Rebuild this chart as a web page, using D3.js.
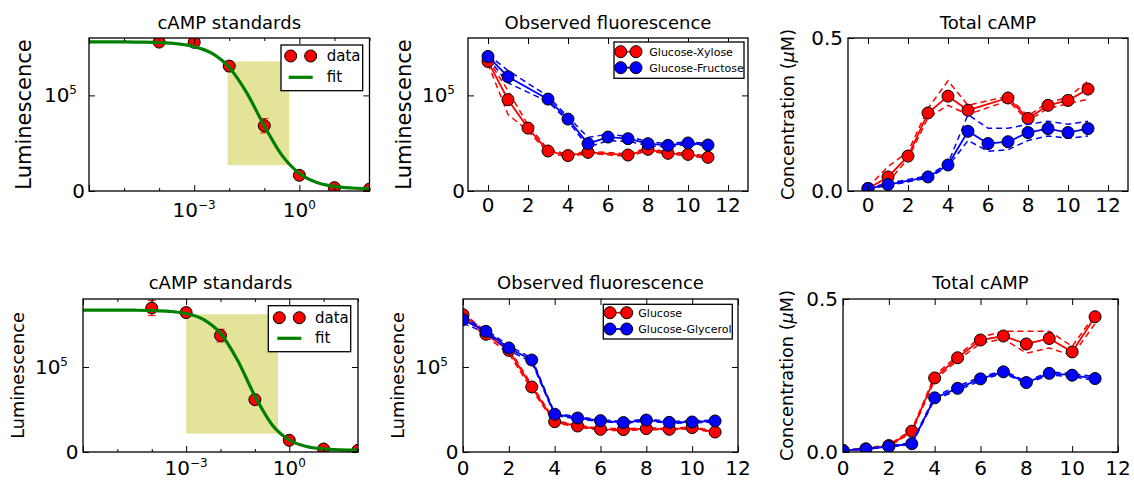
<!DOCTYPE html>
<html>
<head>
<meta charset="utf-8">
<script src="https://cdn.jsdelivr.net/npm/d3@7"></script>
<style>
  body { margin: 0; background: #fff; }
  text { font-family: "DejaVu Sans", sans-serif; fill: #000; }
</style>
</head>
<body>
<svg id="fig" width="1134" height="480"></svg>
<script>
// ---- cAMP standard curves (concentration in µM vs luminescence) ----
const stdConc = [1e-4, 1e-3, 1e-2, 1e-1, 1, 10, 100];
const stdLumA = [155700, 155500, 130600, 68300, 16400, 3500, 2000];
const stdErrA = [2000, 1500, 5000, 7500, 1000, 500, 300];
const stdLumB = [169400, 164000, 137000, 61600, 13800, 3500, 2000];
const stdErrB = [9000, 1500, 7500, 2000, 1200, 500, 300];

// fitted standard curves, sampled every half decade
const fitConc = [1e-6, 3.16e-6, 1e-5, 3.16e-5, 1e-4, 3.16e-4, 1e-3, 3.16e-3, 1e-2,
                 3.16e-2, 1e-1, 3.16e-1, 1, 3.16, 10, 31.6, 100];
const fitLumA = [155980, 155950, 155870, 155680, 155190, 153980, 151020, 144080, 129170,
                 102650, 68090, 37470, 18400, 8970, 4850, 3150, 2460];
const fitLumB = [166990, 166977, 166934, 166815, 166480, 165540, 162960, 156090, 139550,
                 107630, 65830, 32160, 14130, 6520, 3630, 2580, 2210];

// linear-response window of each standard curve: [conc lo, conc hi], [lum lo, lum hi]
const bandConcA = [0.009, 0.51];
const bandLumA = [27000, 135500];
const bandConcB = [0.001, 0.47];
const bandLumB = [21600, 162000];

// ---- time courses, experiment 1 ----
const xylTime = [0, 1, 2, 3, 4, 5, 7, 8, 9, 10, 11];
const xylLum   = [135500, 95500, 65800, 41800, 37000, 40400, 37600, 43600, 39400, 38300, 35200];
const xylLumHi = [138000, 105000, 69000, 43500, 38500, 41500, 39000, 45000, 40500, 39500, 36500];
const xylLumLo = [133000, 80000, 63000, 40000, 35500, 39300, 36200, 42000, 38300, 37000, 34000];
const fruTime = [0, 1, 3, 4, 5, 6, 7, 8, 9, 10, 11];
const fruLum   = [140700, 119500, 96100, 75200, 49500, 56400, 54700, 49500, 47700, 50200, 48100];
const fruLumHi = [142500, 126000, 99000, 77500, 56000, 59500, 57000, 51500, 49500, 51500, 49500];
const fruLumLo = [139000, 113000, 93500, 73000, 46000, 52500, 52000, 47500, 46000, 49000, 47000];

const xylCamp   = [0.008, 0.046, 0.114, 0.255, 0.310, 0.264, 0.304, 0.237, 0.280, 0.296, 0.333];
const xylCampHi = [0.012, 0.080, 0.128, 0.270, 0.360, 0.280, 0.310, 0.245, 0.290, 0.305, 0.360];
const xylCampLo = [0.004, 0.030, 0.105, 0.240, 0.280, 0.250, 0.295, 0.230, 0.270, 0.285, 0.300];
const fruCamp   = [0.008, 0.021, 0.046, 0.085, 0.195, 0.155, 0.161, 0.191, 0.204, 0.191, 0.204];
const fruCampHi = [0.010, 0.025, 0.050, 0.090, 0.250, 0.205, 0.205, 0.218, 0.228, 0.218, 0.228];
const fruCampLo = [0.006, 0.018, 0.042, 0.080, 0.165, 0.130, 0.135, 0.165, 0.180, 0.172, 0.180];

// ---- time courses, experiment 2 ----
const gluTime = [0, 1, 2, 3, 4, 5, 6, 7, 8, 9, 10, 11];
const gluLum   = [161600, 138500, 119600, 76500, 35700, 30600, 26700, 26300, 27500, 26700, 28700, 23500];
const gluLumHi = [164000, 141000, 122000, 79000, 37000, 31800, 27800, 27400, 28500, 27700, 29700, 24500];
const gluLumLo = [159500, 136000, 116000, 73500, 34400, 29400, 25600, 25200, 26500, 25700, 27700, 22500];
const glyLum   = [155700, 142000, 122400, 108200, 44400, 40000, 36900, 34600, 37600, 34900, 35300, 36500];
const glyLumHi = [158500, 144000, 125000, 110500, 45800, 41300, 38000, 35800, 38800, 36000, 36500, 37700];
const glyLumLo = [151500, 140000, 119500, 105800, 43000, 38700, 35800, 33500, 36400, 33800, 34100, 35300];

const gluCamp   = [0.005, 0.010, 0.021, 0.068, 0.242, 0.308, 0.366, 0.379, 0.353, 0.371, 0.327, 0.442];
const gluCampHi = [0.006, 0.012, 0.024, 0.072, 0.250, 0.315, 0.375, 0.395, 0.395, 0.395, 0.345, 0.450];
const gluCampLo = [0.004, 0.008, 0.018, 0.064, 0.235, 0.300, 0.355, 0.370, 0.323, 0.340, 0.315, 0.420];
const glyCamp   = [0.005, 0.010, 0.018, 0.027, 0.177, 0.208, 0.239, 0.262, 0.227, 0.257, 0.251, 0.240];
const glyCampHi = [0.006, 0.011, 0.020, 0.030, 0.182, 0.215, 0.245, 0.266, 0.231, 0.262, 0.256, 0.246];
const glyCampLo = [0.004, 0.009, 0.016, 0.024, 0.172, 0.201, 0.233, 0.258, 0.223, 0.252, 0.246, 0.234];

// ---- axis ticks ----
const timeTicks = [0, 2, 4, 6, 8, 10, 12];
const lumTicks = [0, 1e5];
const campTicks = [0, 0.5];
const concMajor = [1e-6, 1e-3, 1e0];
const concMinor = [1e-5, 1e-4, 1e-2, 1e-1, 1e1, 1e2];

// ---------------------------------------------------------------------
const svg = d3.select('#fig');
svg.append('rect').attr('width', 1134).attr('height', 480).attr('fill', '#fff');

const RED = '#ff0000', BLUE = '#0000ff', GREEN = '#008000';
const TICK_FONT = 20;
let clipCount = 0;

function makePanel(box, x, y) {
  x.range([box.left, box.right]);
  y.range([box.bottom, box.top]);
  const id = 'clip' + (clipCount++);
  svg.append('clipPath').attr('id', id).append('rect')
    .attr('x', box.left).attr('y', box.top)
    .attr('width', box.right - box.left).attr('height', box.bottom - box.top);
  const plot = svg.append('g').attr('clip-path', `url(#${id})`);
  return { box, x, y, plot };
}

function tickLines(axis, transform, values, size) {
  svg.append('g').attr('transform', transform)
    .call(axis.tickValues(values).tickSizeInner(-size).tickSizeOuter(0).tickFormat(''))
    .call(g => g.select('.domain').remove())
    .call(g => g.selectAll('line').attr('stroke', '#000').attr('stroke-width', 1));
}

function drawAxes(p, xMajor, yMajor, xMinor) {
  const { box, x, y } = p;
  tickLines(d3.axisBottom(x), `translate(0,${box.bottom})`, xMajor, 6);
  tickLines(d3.axisTop(x), `translate(0,${box.top})`, xMajor, 6);
  if (xMinor) {
    tickLines(d3.axisBottom(x), `translate(0,${box.bottom})`, xMinor, 3);
    tickLines(d3.axisTop(x), `translate(0,${box.top})`, xMinor, 3);
  }
  tickLines(d3.axisLeft(y), `translate(${box.left},0)`, yMajor, 6);
  tickLines(d3.axisRight(y), `translate(${box.right},0)`, yMajor, 6);
  svg.append('rect')
    .attr('x', box.left).attr('y', box.top)
    .attr('width', box.right - box.left).attr('height', box.bottom - box.top)
    .attr('fill', 'none').attr('stroke', '#000').attr('stroke-width', 1.3);
}

// text with an optional superscript (mathtext-like "10^5")
function label(x, y, base, sup, anchor, size) {
  const t = svg.append('text').attr('x', x).attr('y', y)
    .attr('text-anchor', anchor).attr('font-size', size || TICK_FONT);
  t.append('tspan').text(base);
  if (sup) t.append('tspan').attr('font-size', Math.round((size || TICK_FONT) * 0.62))
    .attr('dy', -8.5).text(sup);
  return t;
}

function lumTickLabels(p, gap0, gap5) {
  const { box, y } = p;
  label(box.left - gap0, y(0) + 7, '0', null, 'end');
  label(box.left - gap5, y(1e5) + 7, '10', '5', 'end');
}

function timeTickLabels(p, offset) {
  const { box, x } = p;
  timeTicks.forEach(v => label(x(v), box.bottom + offset, String(v), null, 'middle'));
}

function title(p, text, base) {
  svg.append('text').attr('x', (p.box.left + p.box.right) / 2).attr('y', base)
    .attr('text-anchor', 'middle').attr('font-size', 18).text(text);
}

function yTitle(p, xBase, size, parts) {
  const cy = (p.box.top + p.box.bottom) / 2;
  const t = svg.append('text').attr('transform', `translate(${xBase},${cy}) rotate(-90)`)
    .attr('text-anchor', 'middle').attr('font-size', size);
  parts.forEach(pt => {
    const s = t.append('tspan').text(pt.t);
    if (pt.italic) s.attr('font-style', 'italic');
  });
}

// ---- series drawing ----
function series(p, xs, ys, lo, hi, color) {
  const line = d3.line().x((d, i) => p.x(xs[i])).y(d => p.y(d));
  [lo, hi].forEach(arr => p.plot.append('path').datum(arr)
    .attr('d', line).attr('fill', 'none').attr('stroke', color)
    .attr('stroke-width', 1.5).attr('stroke-dasharray', '6,4'));
  p.plot.append('path').datum(ys).attr('d', line).attr('fill', 'none')
    .attr('stroke', color).attr('stroke-width', 1.8);
  p.plot.selectAll(null).data(ys).enter().append('circle')
    .attr('cx', (d, i) => p.x(xs[i])).attr('cy', d => p.y(d)).attr('r', 6)
    .attr('fill', color).attr('stroke', '#000').attr('stroke-width', 1);
}

function standards(p, lum, err, fit, bandConc, bandLum) {
  const { x, y, plot } = p;
  plot.append('rect')
    .attr('x', x(bandConc[0])).attr('width', x(bandConc[1]) - x(bandConc[0]))
    .attr('y', y(bandLum[1])).attr('height', y(bandLum[0]) - y(bandLum[1]))
    .attr('fill', '#e3e39a');
  const eb = plot.append('g').attr('stroke', RED).attr('stroke-width', 1);
  stdConc.forEach((c, i) => {
    const cx = x(c), yt = y(lum[i] + err[i]), yb = y(lum[i] - err[i]);
    eb.append('line').attr('x1', cx).attr('x2', cx).attr('y1', yt).attr('y2', yb);
    eb.append('line').attr('x1', cx - 4).attr('x2', cx + 4).attr('y1', yt).attr('y2', yt);
    eb.append('line').attr('x1', cx - 4).attr('x2', cx + 4).attr('y1', yb).attr('y2', yb);
  });
  plot.selectAll(null).data(lum).enter().append('circle')
    .attr('cx', (d, i) => x(stdConc[i])).attr('cy', d => y(d)).attr('r', 6)
    .attr('fill', RED).attr('stroke', '#000').attr('stroke-width', 1);
  plot.append('path').datum(fit)
    .attr('d', d3.line().curve(d3.curveMonotoneX).x((d, i) => x(fitConc[i])).y(d => y(d)))
    .attr('fill', 'none').attr('stroke', GREEN).attr('stroke-width', 3.2);
}

function logTickLabels(p, base) {
  const { x } = p;
  label(x(1e-3), base, '10', '\u22123', 'middle');
  label(x(1e0), base, '10', '0', 'middle');
}

// legend for the standards panels
function stdLegend(box, mk1, mk2, rowY1, rowY2, textX) {
  svg.append('rect').attr('x', box[0]).attr('y', box[1])
    .attr('width', box[2] - box[0]).attr('height', box[3] - box[1])
    .attr('fill', '#fff').attr('stroke', '#000').attr('stroke-width', 1.3);
  [mk1, mk2].forEach(mx => svg.append('circle').attr('cx', mx).attr('cy', rowY1).attr('r', 6)
    .attr('fill', RED).attr('stroke', '#000').attr('stroke-width', 1));
  svg.append('line').attr('x1', mk1 - 2).attr('x2', mk2 + 2).attr('y1', rowY2).attr('y2', rowY2)
    .attr('stroke', GREEN).attr('stroke-width', 3.2);
  svg.append('text').attr('x', textX).attr('y', rowY1 + 5).attr('font-size', 15).text('data');
  svg.append('text').attr('x', textX).attr('y', rowY2 + 5).attr('font-size', 15).text('fit');
}

// legend for the time-course panels
function tcLegend(box, mk1, mk2, rows, textX, names) {
  svg.append('rect').attr('x', box[0]).attr('y', box[1])
    .attr('width', box[2] - box[0]).attr('height', box[3] - box[1])
    .attr('fill', '#fff').attr('stroke', '#000').attr('stroke-width', 1.3);
  [RED, BLUE].forEach((c, i) => {
    svg.append('line').attr('x1', mk1).attr('x2', mk2).attr('y1', rows[i]).attr('y2', rows[i])
      .attr('stroke', c).attr('stroke-width', 1.8);
    [mk1, mk2].forEach(mx => svg.append('circle').attr('cx', mx).attr('cy', rows[i]).attr('r', 6)
      .attr('fill', c).attr('stroke', '#000').attr('stroke-width', 1));
    svg.append('text').attr('x', textX).attr('y', rows[i] + 4).attr('font-size', 11).text(names[i]);
  });
}

// ===================== top row =====================
const TOP = { top: 38, bottom: 191 };
const BOT = { top: 299, bottom: 452 };

// cAMP standards (1)
const pA = makePanel({ left: 89, right: 369.5, ...TOP },
  d3.scaleLog().domain([1e-6, 1e2]), d3.scaleLinear().domain([0, 160000]));
standards(pA, stdLumA, stdErrA, fitLumA, bandConcA, bandLumA);
drawAxes(pA, concMajor, lumTicks, concMinor);
lumTickLabels(pA, 4, 12);
logTickLabels(pA, 217);
title(pA, 'cAMP standards', 29);
yTitle(pA, 31, 21, [{ t: 'Luminescence' }]);
stdLegend([281, 45, 362.7, 90.7], 290.7, 310.7, 56, 77.3, 326.7);

// observed fluorescence (1)
const pB = makePanel({ left: 468, right: 748, ...TOP },
  d3.scaleLinear().domain([-1, 13]), d3.scaleLinear().domain([0, 160000]));
series(pB, xylTime, xylLum, xylLumLo, xylLumHi, RED);
series(pB, fruTime, fruLum, fruLumLo, fruLumHi, BLUE);
drawAxes(pB, timeTicks, lumTicks);
lumTickLabels(pB, 3, 13);
timeTickLabels(pB, 21);
title(pB, 'Observed fluorescence', 29);
yTitle(pB, 411, 21, [{ t: 'Luminescence' }]);
tcLegend([614, 42, 744, 78.3], 620.7, 636, [51.7, 67.7], 649.3, ['Glucose-Xylose', 'Glucose-Fructose']);

// total cAMP (1)
const pC = makePanel({ left: 848, right: 1128, ...TOP },
  d3.scaleLinear().domain([-1, 13]), d3.scaleLinear().domain([0, 0.5]));
series(pC, xylTime, xylCamp, xylCampLo, xylCampHi, RED);
series(pC, fruTime, fruCamp, fruCampLo, fruCampHi, BLUE);
drawAxes(pC, timeTicks, campTicks);
campTicks.forEach(v => label(pC.box.left - 5, pC.y(v) + 7, v.toFixed(1), null, 'end'));
timeTickLabels(pC, 21);
title(pC, 'Total cAMP', 29);
yTitle(pC, 794, 17.7, [{ t: 'Concentration (' }, { t: '\u03bc', italic: true }, { t: 'M)' }]);

// ===================== bottom row =====================
// cAMP standards (2)
const pD = makePanel({ left: 83, right: 358, ...BOT },
  d3.scaleLog().domain([1e-6, 1e2]), d3.scaleLinear().domain([0, 180000]));
standards(pD, stdLumB, stdErrB, fitLumB, bandConcB, bandLumB);
drawAxes(pD, concMajor, lumTicks, concMinor);
lumTickLabels(pD, 4.5, 15);
logTickLabels(pD, 475);
title(pD, 'cAMP standards', 289);
yTitle(pD, 24, 17.7, [{ t: 'Luminescence' }]);
stdLegend([268.3, 305.7, 350.7, 351.7], 279.3, 299.3, 317.7, 338.3, 315);

// observed fluorescence (2)
const pE = makePanel({ left: 463, right: 738, ...BOT },
  d3.scaleLinear().domain([0, 12]), d3.scaleLinear().domain([0, 180000]));
series(pE, gluTime, gluLum, gluLumLo, gluLumHi, RED);
series(pE, gluTime, glyLum, glyLumLo, glyLumHi, BLUE);
drawAxes(pE, timeTicks, lumTicks);
lumTickLabels(pE, 4.5, 15);
timeTickLabels(pE, 23);
title(pE, 'Observed fluorescence', 289);
yTitle(pE, 404, 17.7, [{ t: 'Luminescence' }]);
tcLegend([603.3, 304.3, 732.3, 339], 610, 626.7, [312.7, 329], 638.3, ['Glucose', 'Glucose-Glycerol']);

// total cAMP (2)
const pF = makePanel({ left: 843, right: 1118, ...BOT },
  d3.scaleLinear().domain([0, 12]), d3.scaleLinear().domain([0, 0.5]));
series(pF, gluTime, gluCamp, gluCampLo, gluCampHi, RED);
series(pF, gluTime, glyCamp, glyCampLo, glyCampHi, BLUE);
drawAxes(pF, timeTicks, campTicks);
campTicks.forEach(v => label(pF.box.left - 5, pF.y(v) + 7, v.toFixed(1), null, 'end'));
timeTickLabels(pF, 23);
title(pF, 'Total cAMP', 289);
yTitle(pF, 793, 17.7, [{ t: 'Concentration (' }, { t: '\u03bc', italic: true }, { t: 'M)' }]);
</script>
</body>
</html>
